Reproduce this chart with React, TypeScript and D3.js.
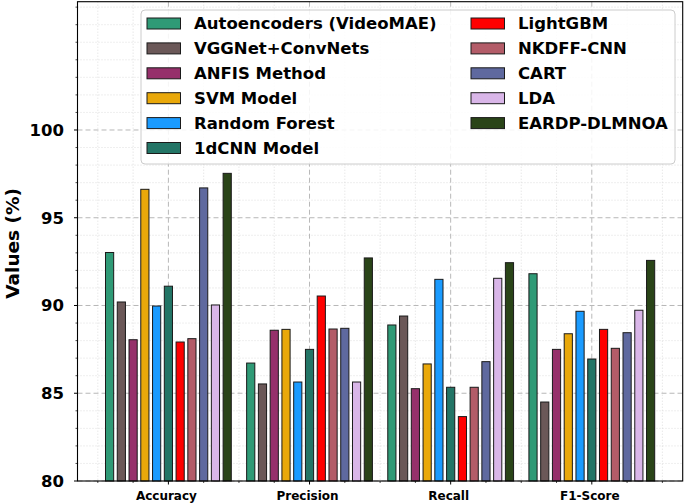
import * as d3 from 'd3';

const categories = ['Accuracy', 'Precision', 'Recall', 'F1-Score'];
const models = [
  'Autoencoders (VideoMAE)', 'VGGNet+ConvNets', 'ANFIS Method', 'SVM Model',
  'Random Forest', '1dCNN Model', 'LightGBM', 'NKDFF-CNN', 'CART', 'LDA', 'EARDP-DLMNOA',
];
const colors = [
  '#2f9a76', '#6b5858', '#96306b', '#e9a80a', '#1a9bff', '#237566',
  '#ff0000', '#b35c68', '#5f699f', '#d9b6e8', '#2a4418',
];
// values per model: [Accuracy, Precision, Recall, F1-Score]
const autoencoders = [93.02, 86.72, 88.89, 91.81];
const vggnet = [90.2, 85.53, 89.4, 84.5];
const anfis = [88.05, 88.59, 85.26, 87.5];
const svm = [96.62, 88.64, 86.67, 88.39];
const randomForest = [89.97, 85.64, 91.49, 89.67];
const cnn1d = [91.1, 87.5, 85.34, 86.95];
const lightgbm = [87.92, 90.54, 83.67, 88.64];
const nkdff = [88.11, 88.66, 85.34, 87.56];
const cart = [96.7, 88.7, 86.8, 88.45];
const lda = [90.03, 85.64, 91.55, 89.73];
const eardp = [97.53, 92.71, 92.44, 92.57];
const series = [autoencoders, vggnet, anfis, svm, randomForest, cnn1d, lightgbm, nkdff, cart, lda, eardp];

const yTicks = [80, 85, 90, 95, 100];

const W = 685, H = 503;
const plot = { left: 77.5, right: 682.7, top: 1.7, bottom: 481 };
const step = 1 / 12;
const barW = 0.065;
const font = 'DejaVu Sans, sans-serif';

export default function App() {
  const x = d3.scaleLinear().domain([-0.644, 3.644]).range([plot.left, plot.right]);
  const y = d3.scaleLinear().domain([80, 107.31]).range([plot.bottom, plot.top]);

  const yMinor = d3.range(81, 108).filter((v) => v % 5 !== 0 || v > 100);
  const xMajor = categories.map((_, i) => i);
  const xMinor = d3.range(-0.5, 3.51, 0.25).filter((v) => Math.abs(v - Math.round(v)) > 0.01);

  const half = (models.length - 1) / 2;

  return (
    <svg width={W} height={H} style={{ position: 'absolute', left: 0, top: 0 }} fontFamily={font}>
      <rect width={W} height={H} fill="#fff" />
      {/* grid */}
      <g>
        {yMinor.map((v) => (
          <line key={'ym' + v} x1={plot.left} x2={plot.right} y1={y(v)} y2={y(v)}
            stroke="#d6d6d6" strokeWidth={0.8} strokeDasharray="1,2" />
        ))}
        {xMinor.map((v) => (
          <line key={'xm' + v} x1={x(v)} x2={x(v)} y1={plot.top} y2={plot.bottom}
            stroke="#d6d6d6" strokeWidth={0.8} strokeDasharray="1,2" />
        ))}
        {yTicks.map((v) => (
          <line key={'yg' + v} x1={plot.left} x2={plot.right} y1={y(v)} y2={y(v)}
            stroke="#b8b8b8" strokeWidth={1} strokeDasharray="5,3" />
        ))}
        {xMajor.map((v) => (
          <line key={'xg' + v} x1={x(v)} x2={x(v)} y1={plot.top} y2={plot.bottom}
            stroke="#b8b8b8" strokeWidth={1} strokeDasharray="5,3" />
        ))}
      </g>
      {/* bars */}
      <g>
        {series.map((vals, m) =>
          vals.map((v, c) => {
            const cx = c + (m - half) * step;
            const x0 = x(cx - barW / 2);
            const x1 = x(cx + barW / 2);
            return (
              <rect key={m + '-' + c} x={x0 + 0.5} y={y(v)} width={x1 - x0 - 1} height={y(80) - y(v)}
                fill={colors[m]} stroke="#1a1a1a" strokeWidth={1} />
            );
          })
        )}
      </g>
      {/* spines */}
      <rect x={plot.left} y={plot.top} width={plot.right - plot.left} height={plot.bottom - plot.top}
        fill="none" stroke="#000" strokeWidth={1.1} />
      {/* y axis */}
      <g>
        {yTicks.map((v) => (
          <g key={'yt' + v}>
            <line x1={plot.left - 3.5} x2={plot.left} y1={y(v)} y2={y(v)} stroke="#000" strokeWidth={1} />
            <text x={64} y={y(v)} dy="0.36em" textAnchor="end" fontSize={16.5} fontWeight="bold">{v}</text>
          </g>
        ))}
        {yMinor.map((v) => (
          <line key={'ymt' + v} x1={plot.left - 2} x2={plot.left} y1={y(v)} y2={y(v)} stroke="#000" strokeWidth={0.7} />
        ))}
        <text transform={`translate(18.5,${(plot.top + plot.bottom) / 2 + 2}) rotate(-90)`} textAnchor="middle"
          fontSize={18.5} fontWeight="bold">Values (%)</text>
      </g>
      {/* x axis */}
      <g>
        {xMajor.map((v) => (
          <g key={'xt' + v}>
            <line x1={x(v)} x2={x(v)} y1={plot.bottom} y2={plot.bottom + 3.5} stroke="#000" strokeWidth={1} />
            <text x={x(v) - 2} y={500} textAnchor="middle" fontSize={12} fontWeight="bold">{categories[v]}</text>
          </g>
        ))}
        {xMinor.map((v) => (
          <line key={'xmt' + v} x1={x(v)} x2={x(v)} y1={plot.bottom} y2={plot.bottom + 2} stroke="#000" strokeWidth={0.7} />
        ))}
      </g>
      {/* legend */}
      <g>
        <rect x={141} y={10} width={534} height={154} rx={4} fill="#fff" fillOpacity={0.85}
          stroke="#cccccc" strokeWidth={1} />
        {models.map((name, i) => {
          const col = i < 6 ? 0 : 1;
          const row = i < 6 ? i : i - 6;
          const px = col === 0 ? 147 : 471;
          const cy = 23.5 + row * 24.9;
          return (
            <g key={name}>
              <rect x={px} y={cy - 5.5} width={33.5} height={11} fill={colors[i]} stroke="#1a1a1a" strokeWidth={1} />
              <text x={px + 47} y={cy} dy="0.36em" fontSize={16.5} fontWeight="bold">{name}</text>
            </g>
          );
        })}
      </g>
    </svg>
  );
}
